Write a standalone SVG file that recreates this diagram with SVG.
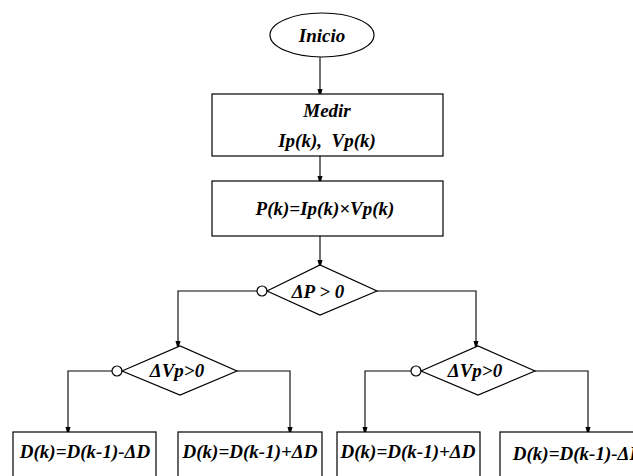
<svg xmlns="http://www.w3.org/2000/svg" width="633" height="476" viewBox="0 0 633 476">
<defs>
<marker id="ah" markerWidth="9" markerHeight="16" refX="9" refY="4.5" orient="auto" markerUnits="userSpaceOnUse" viewBox="0 0 16 9">
<path d="M0,0 L16,4.5 L0,9 Z" fill="#000"/>
</marker>
<style>
.sh{fill:#fff;stroke:#000;stroke-width:1.2}
.ln{fill:none;stroke:#000;stroke-width:1.1}
.ar{marker-end:url(#ah)}
.t{font-family:"Liberation Serif","Times New Roman",serif;font-weight:bold;font-style:italic;font-size:19px;fill:#000;text-anchor:middle}
</style>
</defs>
<rect width="633" height="476" fill="#fff"/>
<g id="connectors">
<path class="ln ar" d="M320,57 V94"/>
<path class="ln ar" d="M320,156 V181"/>
<path class="ln ar" d="M320,236 V265"/>
<path class="ln ar" d="M257,291 H178 V346"/>
<path class="ln ar" d="M377,291 H476 V346"/>
<path class="ln ar" d="M112,371 H68 V432"/>
<path class="ln ar" d="M237,371 H290 V432"/>
<path class="ln ar" d="M411,371 H365 V432"/>
<path class="ln ar" d="M535,371 H588 V432"/>
<circle class="sh" cx="262" cy="291" r="5"/>
<circle class="sh" cx="117" cy="371" r="5"/>
<circle class="sh" cx="416" cy="371" r="5"/>
</g>
<g id="inicio">
<ellipse class="sh" cx="322" cy="35" rx="52" ry="22"/>
<text class="t" x="322" y="42">Inicio</text>
</g>
<g id="medir">
<rect class="sh" x="212" y="94" width="231" height="62"/>
<text class="t" x="327" y="117">Medir</text>
<text class="t" x="327" y="147" xml:space="preserve">Ip(k),  Vp(k)</text>
</g>
<g id="potencia">
<rect class="sh" x="212" y="181" width="231" height="55"/>
<text class="t" x="325" y="215">P(k)=Ip(k)×Vp(k)</text>
</g>
<g id="dp">
<polygon class="sh" points="267,291 320,265 377,291 320,315"/>
<text class="t" x="318" y="298">ΔP &gt; 0</text>
</g>
<g id="dvp1">
<polygon class="sh" points="122,371 180,346 237,371 180,395"/>
<text class="t" x="177" y="377">ΔVp&gt;0</text>
</g>
<g id="dvp2">
<polygon class="sh" points="421,371 478,346 535,371 478,395"/>
<text class="t" x="475" y="377">ΔVp&gt;0</text>
</g>
<g id="box1">
<rect class="sh" x="13" y="432" width="143" height="60"/>
<text class="t" x="85" y="458">D(k)=D(k-1)-ΔD</text>
</g>
<g id="box2">
<rect class="sh" x="178" y="432" width="144" height="60"/>
<text class="t" x="250" y="458">D(k)=D(k-1)+ΔD</text>
</g>
<g id="box3">
<rect class="sh" x="337" y="432" width="143" height="60"/>
<text class="t" x="408" y="458">D(k)=D(k-1)+ΔD</text>
</g>
<g id="box4">
<rect class="sh" x="500" y="432" width="143" height="60"/>
<text class="t" x="578" y="460">D(k)=D(k-1)-ΔD</text>
</g>
</svg>
